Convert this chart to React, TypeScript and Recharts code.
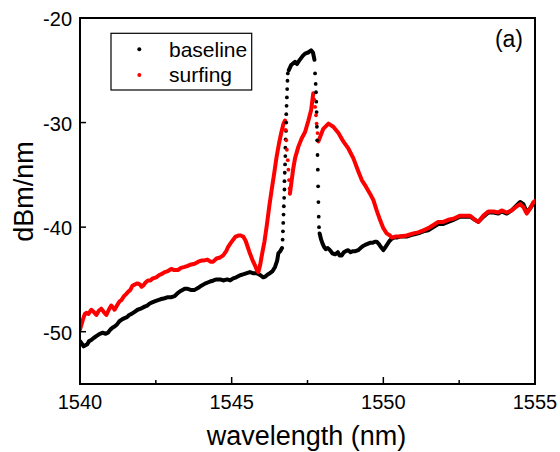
import React from 'react';
import { ComposedChart, Line, Scatter, XAxis, YAxis, ReferenceArea } from 'recharts';

type P = [number, number];

const xTicks = [1540, 1542.5, 1545, 1547.5, 1550, 1552.5, 1555];
const yTicks = [-50, -40, -30, -20];
const seriesNames = ['baseline', 'surfing'];

// ---- baseline (black) ----
const baselineLow: P[] = [
  [1540.0, -50.9], [1540.05, -51.1], [1540.12, -51.4], [1540.18, -51.3], [1540.24, -51.2], [1540.3, -50.9],
  [1540.37, -50.8], [1540.45, -50.6], [1540.55, -50.4], [1540.65, -50.2], [1540.75, -50.1], [1540.85, -50.2],
  [1540.92, -50.1], [1541.0, -49.8], [1541.08, -49.6], [1541.14, -49.5], [1541.22, -49.3], [1541.3, -49.0],
  [1541.4, -48.8], [1541.47, -48.7], [1541.55, -48.6], [1541.62, -48.4], [1541.7, -48.3], [1541.8, -48.1],
  [1541.9, -47.9], [1542.0, -47.8], [1542.13, -47.6], [1542.22, -47.5], [1542.3, -47.3], [1542.38, -47.2],
  [1542.46, -47.1], [1542.55, -47.0], [1542.65, -46.9], [1542.79, -46.8], [1542.9, -46.7], [1543.0, -46.7],
  [1543.12, -46.6], [1543.22, -46.3], [1543.32, -46.1], [1543.45, -45.9], [1543.55, -45.9], [1543.65, -46.0],
  [1543.78, -46.0], [1543.9, -45.8], [1544.0, -45.6], [1544.12, -45.4], [1544.29, -45.2], [1544.4, -45.1],
  [1544.5, -45.0], [1544.62, -45.0], [1544.72, -45.1], [1544.85, -45.0], [1544.95, -45.1], [1545.05, -44.9],
  [1545.15, -44.8], [1545.28, -44.6], [1545.4, -44.5], [1545.5, -44.4], [1545.6, -44.3], [1545.7, -44.4],
  [1545.83, -44.4], [1545.95, -44.6], [1546.04, -44.8], [1546.12, -44.7], [1546.2, -44.5], [1546.26, -44.4],
  [1546.35, -44.2], [1546.43, -43.8], [1546.5, -43.2], [1546.54, -42.5], [1546.6, -42.3], [1546.66, -42.0],
];
const baselineRiseDots: P[] = [
  [1546.68, -41.2], [1546.69, -40.4], [1546.7, -39.6], [1546.71, -38.8], [1546.72, -38.0], [1546.73, -37.2],
  [1546.74, -36.4], [1546.74, -35.6], [1546.75, -34.8], [1546.76, -34.0], [1546.77, -33.2], [1546.77, -32.4],
  [1546.78, -31.6], [1546.79, -30.8], [1546.8, -30.0], [1546.8, -29.2], [1546.81, -28.4], [1546.82, -27.6],
  [1546.83, -26.8], [1546.84, -26.0], [1546.85, -25.3],
];
const baselineTop: P[] = [
  [1546.88, -25.0], [1546.96, -24.5], [1547.09, -24.2], [1547.15, -24.4], [1547.22, -24.1], [1547.35, -23.6],
  [1547.42, -23.4], [1547.52, -23.3], [1547.62, -23.1], [1547.68, -23.3], [1547.73, -24.0],
];
const baselineFallDots: P[] = [
  [1547.75, -25.3], [1547.77, -26.3], [1547.78, -27.1], [1547.79, -28.0], [1547.8, -29.0], [1547.81, -30.4],
  [1547.82, -31.7], [1547.83, -33.1], [1547.84, -34.5], [1547.85, -36.1], [1547.86, -37.6], [1547.87, -39.0],
  [1547.88, -40.0],
];
const baselineTail: P[] = [
  [1547.9, -40.6], [1547.95, -41.2], [1548.0, -41.6], [1548.05, -41.9], [1548.1, -42.1], [1548.17, -42.0],
  [1548.24, -42.2], [1548.32, -42.5], [1548.41, -42.6], [1548.5, -42.4], [1548.56, -42.7], [1548.63, -42.7],
  [1548.7, -42.4], [1548.76, -42.3], [1548.84, -42.2], [1548.92, -42.4], [1549.0, -42.3], [1549.08, -42.3],
  [1549.17, -42.2], [1549.25, -42.0], [1549.33, -41.8], [1549.4, -41.7], [1549.48, -41.6], [1549.56, -41.5],
  [1549.64, -41.5], [1549.72, -41.4], [1549.78, -41.4], [1549.85, -41.6], [1549.92, -41.9], [1550.0, -42.2],
  [1550.07, -41.9], [1550.14, -41.6], [1550.21, -41.3], [1550.28, -41.1], [1550.35, -41.0], [1550.44, -41.0],
  [1550.55, -40.9], [1550.77, -40.9], [1550.99, -40.7], [1551.15, -40.6], [1551.32, -40.4], [1551.48, -40.3],
  [1551.65, -40.0], [1551.81, -39.7], [1551.98, -39.7], [1552.14, -39.5], [1552.31, -39.3], [1552.53, -39.0],
  [1552.69, -39.0], [1552.86, -39.0], [1553.02, -39.3], [1553.13, -39.5], [1553.3, -39.0], [1553.46, -38.6],
  [1553.63, -38.6], [1553.79, -38.7], [1553.9, -38.5], [1554.07, -38.7], [1554.23, -38.4], [1554.4, -37.9],
  [1554.51, -37.6], [1554.62, -37.8], [1554.73, -38.6], [1554.84, -38.2], [1554.95, -37.7], [1555.0, -37.6],
];

// ---- surfing (red) ----
const surfingLow: P[] = [
  [1540.0, -49.8], [1540.04, -49.4], [1540.1, -48.8], [1540.16, -48.3], [1540.21, -48.2], [1540.28, -48.3],
  [1540.37, -47.9], [1540.45, -48.1], [1540.54, -48.4], [1540.62, -48.0], [1540.7, -47.8], [1540.78, -48.1],
  [1540.87, -48.4], [1540.95, -47.9], [1541.03, -47.5], [1541.09, -47.7], [1541.14, -47.9], [1541.22, -47.5],
  [1541.3, -47.1], [1541.36, -47.0], [1541.45, -46.6], [1541.52, -46.4], [1541.58, -46.2], [1541.66, -46.0],
  [1541.73, -45.6], [1541.8, -45.5], [1541.86, -45.4], [1541.91, -45.4], [1541.98, -45.5], [1542.03, -45.7],
  [1542.08, -45.6], [1542.16, -45.3], [1542.24, -45.1], [1542.32, -45.1], [1542.4, -44.9], [1542.52, -44.8],
  [1542.6, -44.6], [1542.68, -44.5], [1542.79, -44.3], [1542.9, -44.2], [1543.01, -44.0], [1543.1, -44.1],
  [1543.23, -44.1], [1543.33, -43.9], [1543.45, -43.8], [1543.55, -43.7], [1543.63, -43.6], [1543.78, -43.5],
  [1543.9, -43.3], [1544.0, -43.2], [1544.07, -43.2], [1544.2, -43.1], [1544.3, -43.3], [1544.39, -43.3],
  [1544.5, -43.0], [1544.62, -42.9], [1544.72, -42.7], [1544.82, -42.3], [1544.88, -41.9], [1544.95, -41.6],
  [1545.05, -41.2], [1545.13, -40.9], [1545.22, -40.8], [1545.3, -40.8], [1545.38, -40.9], [1545.46, -41.3],
  [1545.53, -41.9], [1545.6, -42.5], [1545.68, -43.1], [1545.76, -43.6], [1545.83, -44.1], [1545.88, -44.3],
  [1545.94, -43.6], [1546.0, -42.6], [1546.08, -41.4], [1546.16, -39.8], [1546.24, -38.0], [1546.32, -36.4],
  [1546.4, -34.9], [1546.48, -33.3], [1546.56, -32.0], [1546.64, -30.9], [1546.71, -30.1], [1546.76, -29.8],
];
const surfingFallDots1: P[] = [
  [1546.78, -30.7], [1546.8, -31.7], [1546.82, -32.6], [1546.85, -33.6], [1546.87, -34.5], [1546.89, -35.5],
  [1546.91, -36.3],
];
const surfingMid: P[] = [
  [1546.92, -36.8], [1546.98, -35.5], [1547.03, -34.4], [1547.09, -33.4], [1547.2, -32.3], [1547.31, -31.5],
  [1547.42, -30.9], [1547.53, -29.8], [1547.62, -28.8], [1547.69, -27.2],
];
const surfingFallDots2: P[] = [
  [1547.72, -27.8], [1547.75, -28.5], [1547.78, -29.3], [1547.8, -30.1], [1547.83, -31.0],
];
const surfingTail: P[] = [
  [1547.86, -31.8], [1548.02, -30.6], [1548.19, -30.1], [1548.35, -30.4], [1548.52, -31.0], [1548.68, -31.8],
  [1548.85, -32.5], [1549.01, -33.4], [1549.18, -34.7], [1549.29, -35.5], [1549.4, -36.0], [1549.56, -36.8],
  [1549.67, -37.4], [1549.78, -38.4], [1549.89, -39.3], [1550.0, -40.1], [1550.11, -40.6], [1550.22, -40.8],
  [1550.28, -41.0], [1550.39, -40.9], [1550.55, -40.9], [1550.77, -40.8], [1550.99, -40.6], [1551.15, -40.5],
  [1551.32, -40.3], [1551.48, -40.1], [1551.65, -39.8], [1551.81, -39.5], [1551.98, -39.5], [1552.14, -39.3],
  [1552.31, -39.2], [1552.53, -38.9], [1552.69, -38.9], [1552.86, -38.9], [1553.02, -39.3], [1553.13, -39.5],
  [1553.3, -38.9], [1553.46, -38.5], [1553.63, -38.5], [1553.79, -38.6], [1553.9, -38.4], [1554.07, -38.6],
  [1554.23, -38.4], [1554.4, -38.0], [1554.51, -37.8], [1554.62, -38.1], [1554.73, -38.7], [1554.84, -38.2],
  [1554.95, -37.6], [1555.0, -37.5],
];

const rows = (pts: P[]) => pts.map(([x, y]) => ({ x, y }));

const FONT = '"Liberation Sans", Arial, Helvetica, sans-serif';
const BLACK = '#000000';
const RED = '#ff0000';

const XTick = (props: any) => {
  const { x, y, payload } = props;
  const v = payload.value as number;
  const major = v % 5 === 0;
  return (
    <g>
      <line x1={x} x2={x} y1={y} y2={y - (major ? 7 : 4)} stroke={BLACK} strokeWidth={1.5} />
      {major && (
        <text x={x} y={y + 25} textAnchor="middle" fontSize={20} fill={BLACK} fontFamily={FONT}>
          {v}
        </text>
      )}
    </g>
  );
};

const YTick = (props: any) => {
  const { x, y, payload } = props;
  return (
    <g>
      <line x1={x} x2={x + 6} y1={y} y2={y} stroke={BLACK} strokeWidth={1.5} />
      <text x={x - 8} y={y + 8} textAnchor="end" fontSize={20} fill={BLACK} fontFamily={FONT}>
        {payload.value}
      </text>
    </g>
  );
};

const dotShape = (color: string) => (props: any) => (
  <circle cx={props.cx} cy={props.cy} r={1.9} fill={color} />
);

const lineProps = {
  type: 'linear' as const,
  dataKey: 'y',
  dot: false,
  activeDot: false,
  isAnimationActive: false,
  strokeWidth: 4,
  strokeLinejoin: 'round' as const,
  strokeLinecap: 'round' as const,
  legendType: 'none' as const,
};

export default function App() {
  const W = 560;
  const H = 452;
  return (
    <div style={{ position: 'fixed', left: 0, top: 0, width: W, height: H, fontFamily: FONT, background: '#fff' }}>
      <ComposedChart width={W} height={H} margin={{ top: 18, right: 25, bottom: 0, left: 0 }}>
        <XAxis
          type="number"
          dataKey="x"
          domain={[1540, 1555]}
          ticks={xTicks}
          interval={0}
          allowDataOverflow
          height={68}
          tickSize={0}
          tickMargin={0}
          tickLine={false}
          tick={<XTick />}
          axisLine={{ stroke: BLACK, strokeWidth: 2 }}
        />
        <YAxis
          type="number"
          dataKey="y"
          domain={[-55, -20]}
          ticks={yTicks}
          interval={0}
          allowDataOverflow
          width={80}
          tickSize={0}
          tickMargin={0}
          tickLine={false}
          tick={<YTick />}
          axisLine={{ stroke: BLACK, strokeWidth: 2 }}
        />
        <ReferenceArea x1={1540} x2={1555} y1={-55} y2={-20} fill="none" fillOpacity={0} stroke={BLACK} strokeWidth={2} />
        <Line {...lineProps} data={rows(baselineLow)} stroke={BLACK} name="b1" />
        <Line {...lineProps} data={rows(baselineTop)} stroke={BLACK} name="b2" />
        <Line {...lineProps} data={rows(baselineTail)} stroke={BLACK} name="b3" />
        <Scatter data={rows(baselineRiseDots)} dataKey="y" shape={dotShape(BLACK)} isAnimationActive={false} name="b4" />
        <Scatter data={rows(baselineFallDots)} dataKey="y" shape={dotShape(BLACK)} isAnimationActive={false} name="b5" />
        <Line {...lineProps} data={rows(surfingLow)} stroke={RED} name="s1" />
        <Line {...lineProps} data={rows(surfingMid)} stroke={RED} name="s2" />
        <Line {...lineProps} data={rows(surfingTail)} stroke={RED} name="s3" />
        <Scatter data={rows(surfingFallDots1)} dataKey="y" shape={dotShape(RED)} isAnimationActive={false} name="s4" />
        <Scatter data={rows(surfingFallDots2)} dataKey="y" shape={dotShape(RED)} isAnimationActive={false} name="s5" />
      </ComposedChart>
      <svg
        width={W}
        height={H}
        style={{ position: 'absolute', left: 0, top: 0, pointerEvents: 'none' }}
        fontFamily={FONT}
      >
        <rect x={111} y={33.3} width={140.7} height={56.7} fill="none" stroke={BLACK} strokeWidth={1.2} />
        <circle cx={139.3} cy={49.3} r={2} fill={BLACK} />
        <text x={169} y={56.5} fontSize={21} fill={BLACK}>{seriesNames[0]}</text>
        <circle cx={139.3} cy={75} r={2} fill={RED} />
        <text x={169} y={81.7} fontSize={21} fill={BLACK}>{seriesNames[1]}</text>
        <text x={523} y={46.8} fontSize={23} textAnchor="end" fill={BLACK}>(a)</text>
        <text x={306.5} y={445} fontSize={27} textAnchor="middle" fill={BLACK}>wavelength (nm)</text>
        <text x={33} y={191.5} fontSize={27} textAnchor="middle" fill={BLACK} transform="rotate(-90 33 191.5)">dBm/nm</text>
      </svg>
    </div>
  );
}
